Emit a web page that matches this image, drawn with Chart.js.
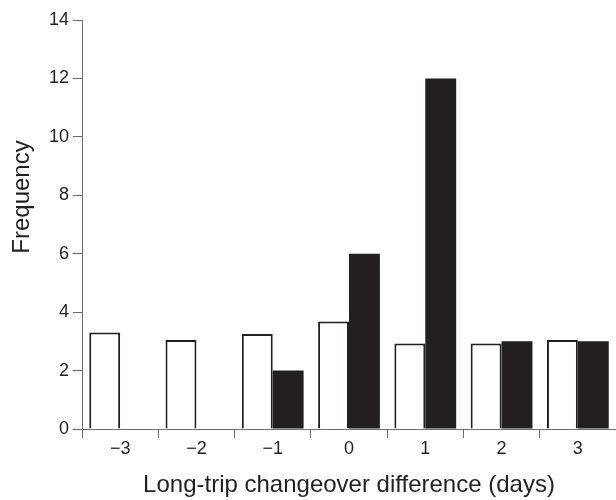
<!DOCTYPE html>
<html lang="en">
<head>
    <meta charset="UTF-8">
    <title>Long-trip changeover difference</title>
    <script src="https://cdn.jsdelivr.net/npm/chart.js"></script>
    <style>
        html, body { margin: 0; padding: 0; background: #fff; }
        #wrap { width: 616px; height: 500px; }
    </style>
</head>
<body>
    <div id="wrap"><canvas id="grafico"></canvas></div>
    <script>
        const dias = ['\u22123', '\u22122', '\u22121', '0', '1', '2', '3'];
        const serieBranca = [3.3, 3.05, 3.25, 3.68, 2.93, 2.93, 3.05];
        const seriePreta = [0, 0, 2, 6, 12, 3, 3];
        const ticksY = [0, 2, 4, 6, 8, 10, 12, 14];

        const tinta = '#231f20';
        const eixo = '#6d6e70';
        const fonte = 'Liberation Sans, Arial, Helvetica, sans-serif';

        // y-axis title, drawn a little above the axis centre like the original
        const tituloY = {
            id: 'tituloY',
            afterDraw(chart) {
                const ctx = chart.ctx;
                ctx.save();
                ctx.translate(22, 197);
                ctx.rotate(-Math.PI / 2);
                ctx.font = '24px ' + fonte;
                ctx.fillStyle = tinta;
                ctx.textAlign = 'center';
                ctx.textBaseline = 'middle';
                ctx.fillText('Frequency', 0, 0);
                ctx.restore();
            }
        };

        const ctx = document.getElementById('grafico').getContext('2d');
        new Chart(ctx, {
            type: 'bar',
            data: {
                labels: dias,
                datasets: [
                    {
                        label: 'A',
                        data: serieBranca,
                        backgroundColor: '#ffffff',
                        borderColor: tinta,
                        borderWidth: 2,
                        categoryPercentage: 0.81,
                        barPercentage: 1
                    },
                    {
                        label: 'B',
                        data: seriePreta,
                        backgroundColor: tinta,
                        borderWidth: 0,
                        categoryPercentage: 0.81,
                        barPercentage: 1
                    }
                ]
            },
            options: {
                responsive: true,
                maintainAspectRatio: false,
                animation: false,
                layout: { padding: { top: 20, right: 0, left: 0, bottom: 0 } },
                plugins: {
                    legend: { display: false },
                    tooltip: { enabled: false }
                },
                scales: {
                    x: {
                        offset: true,
                        grid: {
                            offset: true,
                            drawOnChartArea: false,
                            drawTicks: true,
                            tickLength: 9,
                            color: eixo
                        },
                        border: { display: true, color: eixo, width: 1 },
                        ticks: {
                            color: tinta,
                            font: { family: fonte, size: 18 },
                            padding: 0
                        },
                        title: {
                            display: true,
                            text: 'Long-trip changeover difference (days)',
                            color: tinta,
                            font: { family: fonte, size: 24 },
                            padding: { top: 10, bottom: 0 }
                        },
                        afterFit(scale) { scale.height = 71; }
                    },
                    y: {
                        min: 0,
                        max: 14,
                        afterBuildTicks(scale) {
                            scale.ticks = ticksY.map(v => ({ value: v }));
                        },
                        grid: {
                            drawOnChartArea: false,
                            drawTicks: true,
                            tickLength: 9,
                            color: eixo
                        },
                        border: { display: true, color: eixo, width: 1 },
                        ticks: {
                            color: tinta,
                            font: { family: fonte, size: 18 },
                            padding: 4
                        },
                        afterFit(scale) { scale.width = 82; }
                    }
                }
            },
            plugins: [tituloY]
        });
    </script>
</body>
</html>
